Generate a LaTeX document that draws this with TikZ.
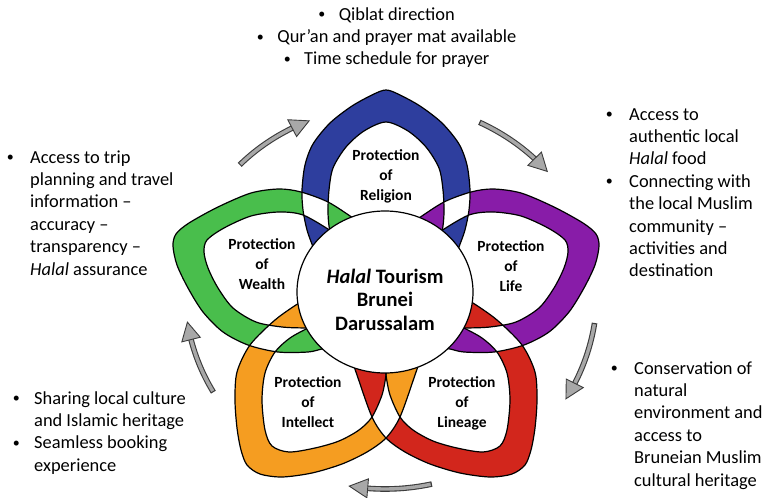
\documentclass[tikz,border=0pt]{standalone}
\usepackage{fontspec}
\setmainfont{Carlito}
\usetikzlibrary{shapes.geometric}
\definecolor{blueP}{RGB}{46,62,158}
\definecolor{purpleP}{RGB}{136,28,168}
\definecolor{redP}{RGB}{210,38,28}
\definecolor{orangeP}{RGB}{245,157,33}
\definecolor{greenP}{RGB}{73,190,76}
\definecolor{arrowfill}{RGB}{168,168,168}
\definecolor{arrowline}{RGB}{60,60,60}

% blue petal (top), purple petal (right), red petal (lower right); green and orange are mirror images
\def\petBO{plot[smooth] coordinates {(318,262) (313,247) (307,230) (303,210) (302,190) (305,165) (313,144) (330,123) (352,106) (374,94) (386,90) (398,94) (420,106) (442,123) (459,144) (467,165) (470,190) (469,210) (465,230) (459,247) (454,262)} -- (386,290) -- cycle}
\def\petBI{plot[smooth] coordinates {(336,250) (330,232) (328,213) (329,190) (333,168) (346,147) (364,131) (386,122) (408,131) (426,147) (439,168) (443,190) (444,213) (442,232) (436,250)} -- (386,285) -- cycle}
\def\petPO{plot[smooth] coordinates {(405,228) (419,218) (444,202) (471,192) (493,189) (521,193) (554,207) (583,223) (596,234) (599,246) (595,265) (584,288) (569,312) (549,332) (524,345) (494,352) (464,352) (450,349) (436,347)} -- (400,290) -- cycle}
\def\petPI{plot[smooth] coordinates {(430,240) (441,231) (469,215) (493,212) (521,216) (548,228) (565,240) (568,252) (564,268) (554,288) (539,308) (516,322) (490,327) (466,328) (450,328)} -- (405,290) -- cycle}
\def\petRO{plot[smooth] coordinates {(460,296) (473,303) (497,320) (522,345) (535,372) (537,400) (535,428) (531,450) (525,465) (512,474) (490,477) (460,473) (430,464) (405,452) (386,438) (372,417) (357,375) (352,360)} -- (420,330) -- cycle}
\def\petRI{plot[smooth] coordinates {(452,322) (464,328) (482,338) (497,352) (507,373) (510,400) (507,430) (500,446) (483,452) (457,448) (433,441) (413,430) (400,417) (390,395) (386,375) (385,360)} -- (420,320) -- cycle}

\newcommand{\weave}[7]{%
  \begin{scope}\clip[#3] #1; \fill[white, even odd rule, #6] #4 #5;\end{scope}%
  \begin{scope}\clip[#3] #2; \fill[#7, even odd rule, #6] #4 #5;\end{scope}}

\newcommand{\grayarrow}[4]{%
  \pgfmathsetmacro{\arwb}{#4-1031/(0.5*(#1+#2))}%
  \pgfmathsetmacro{\arwc}{\arwb+1.2}%
  \pgfmathsetmacro{\arwa}{#3+0.35}%
  \draw[line width=5.6pt, arrowline] plot[domain=#3:\arwc, samples=40, smooth] ({385+#1*cos(\x)},{292+#2*sin(\x)});
  \draw[line width=3.4pt, arrowfill] plot[domain=\arwa:\arwc, samples=40, smooth] ({385+#1*cos(\x)},{292+#2*sin(\x)});
  \filldraw[fill=arrowfill, draw=arrowline, line width=0.9pt, line join=miter]
    ({385+(#1-9.5)*cos(\arwb)},{292+(#2-9.5)*sin(\arwb)}) -- ({385+#1*cos(#4)},{292+#2*sin(#4)})
    -- ({385+(#1+9.5)*cos(\arwb)},{292+(#2+9.5)*sin(\arwb)}) -- cycle;}

\newcommand{\bl}[1]{\makebox[#1pt][l]{\hspace{1.2pt}\raisebox{1.4pt}{\fontsize{14}{14}\selectfont •}}}

\tikzset{
  flipx/.style={shift={(772,0)}, xscale=-1},
  outl/.style={draw=black, line width=1.2pt, line join=round},
  txt/.style={inner sep=0pt, font=\fontsize{18.4}{22.4}\selectfont},
  lbl/.style={anchor=base, inner sep=0pt, font=\fontsize{15.5}{20}\selectfont\bfseries}
}

\begin{document}
\begin{tikzpicture}[x=1pt,y=-1pt]
\useasboundingbox (0,0) rectangle (764,498);
\fill[white] (0,0) rectangle (764,498);

% arrows
\grayarrow{200}{185}{223.4}{247.7}
\grayarrow{210}{190}{296.7}{320.6}
\grayarrow{212}{205}{8.7}{31.4}
\grayarrow{210}{197}{77.1}{99.8}
\grayarrow{200}{195}{149.1}{171.1}

% bands
\fill[blueP, even odd rule] \petBO \petBI;
\fill[purpleP, even odd rule] \petPO \petPI;
\fill[redP, even odd rule] \petRO \petRI;
\fill[orangeP, even odd rule, flipx] \petRO \petRI;
\fill[greenP, even odd rule, flipx] \petPO \petPI;

% interlacing
\weave{\petBO}{\petBI}{}{\petPO}{\petPI}{}{purpleP}
\weave{\petBO}{\petBI}{}{\petPO}{\petPI}{flipx}{greenP}
\weave{\petPO}{\petPI}{}{\petRO}{\petRI}{}{redP}
\weave{\petPO}{\petPI}{flipx}{\petRO}{\petRI}{flipx}{orangeP}
\weave{\petRO}{\petRI}{}{\petRO}{\petRI}{flipx}{orangeP}

% outlines
\path[outl] \petBO; \path[outl] \petBI;
\path[outl] \petPO; \path[outl] \petPI;
\path[outl] \petRO; \path[outl] \petRI;
\path[outl, flipx] \petPO; \path[outl, flipx] \petPI;
\path[outl, flipx] \petRO; \path[outl, flipx] \petRI;

% hub
\node[ellipse, draw=black, line width=1.2pt, fill=white, minimum width=176pt, minimum height=162pt, inner sep=0pt] (hub) at (385,292) {};
\node[anchor=base, inner sep=0pt, font=\fontsize{20.5}{23.5}\selectfont\bfseries] (hubtext) at (385,283)
  {\begin{tabular}[t]{@{}c@{}}\textit{Halal} Tourism\\Brunei\\Darussalam\end{tabular}};

% petal labels
\node[lbl] (religion) at (386,160) {\begin{tabular}[t]{@{}c@{}}Protection\\of\\Religion\end{tabular}};
\node[lbl] (life) at (511,251) {\begin{tabular}[t]{@{}c@{}}Protection\\of\\Life\end{tabular}};
\node[lbl] (lineage) at (462,387) {\begin{tabular}[t]{@{}c@{}}Protection\\of\\Lineage\end{tabular}};
\node[lbl] (intellect) at (308,387) {\begin{tabular}[t]{@{}c@{}}Protection\\of\\Intellect\end{tabular}};
\node[lbl] (wealth) at (262,249) {\begin{tabular}[t]{@{}c@{}}Protection\\of\\Wealth\end{tabular}};

% outside texts
\node[txt, anchor=base] (toptext) at (386,20)
  {\begin{tabular}[t]{@{}c@{}}\bl{21.6}Qiblat direction\\ \bl{21.6}Qur’an and prayer mat available\\ \bl{21.6}Time schedule for prayer\end{tabular}};
\node[txt, anchor=base west] (lefttext) at (5.4,163)
  {\begin{tabular}[t]{@{}l@{}l@{}}\bl{24.6}&Access to trip\\ &planning and travel\\ &information –\\ &accuracy –\\ &transparency –\\ &\textit{Halal} assurance\end{tabular}};
\node[txt, anchor=base west] (righttext) at (604.4,120)
  {\begin{tabular}[t]{@{}l@{}l@{}}\bl{24.6}&Access to\\ &authentic local\\ &\textit{Halal} food\\ \bl{24.6}&Connecting with\\ &the local Muslim\\ &community –\\ &activities and\\ &destination\end{tabular}};
\node[txt, anchor=base west] (blefttext) at (11.4,404)
  {\begin{tabular}[t]{@{}l@{}l@{}}\bl{22.6}&Sharing local culture\\ &and Islamic heritage\\ \bl{22.6}&Seamless booking\\ &experience\end{tabular}};
\node[txt, anchor=base west] (brighttext) at (609.4,374)
  {\begin{tabular}[t]{@{}l@{}l@{}}\bl{24.6}&Conservation of\\ &natural\\ &environment and\\ &access to\\ &Bruneian Muslim\\ &cultural heritage\end{tabular}};
\end{tikzpicture}
\end{document}
